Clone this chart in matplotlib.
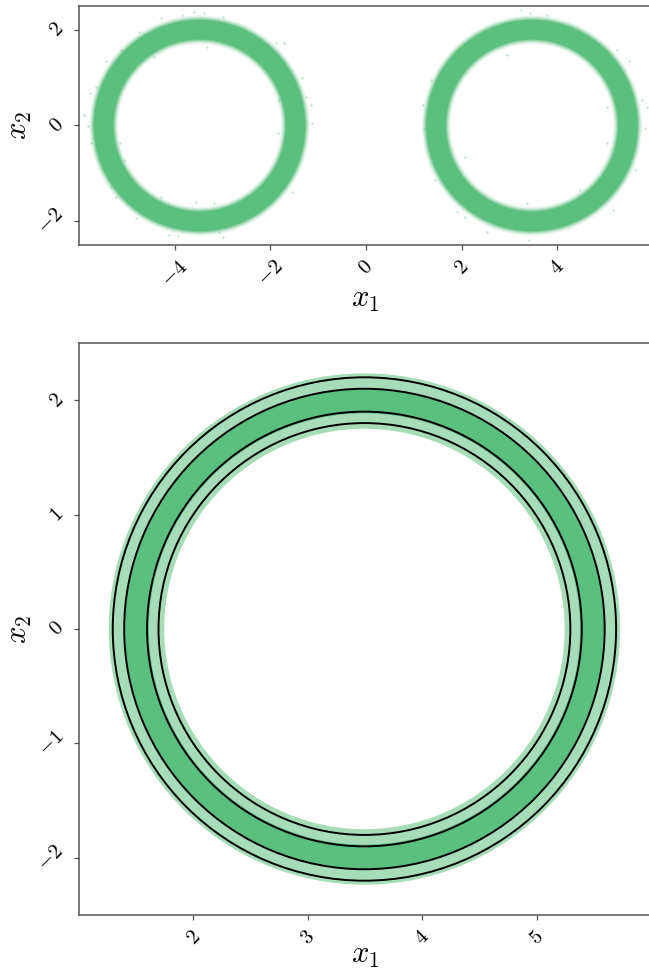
import matplotlib
matplotlib.use("Agg")
import matplotlib.pyplot as plt
from matplotlib.patches import Wedge, Circle

plt.rcParams['mathtext.fontset'] = 'cm'
plt.rcParams['font.family'] = ['DejaVu Serif']

W, H = 649, 971
GREEN = '#5bbf7d'
LIGHT = '#a6ddb8'
SPINE = '#555555'

# Top panel: ring centres and read-off density bands (inner, outer, alpha)
ring_centres = [-3.48, 3.47]
density_bands = [(1.70, 2.31, 0.07), (1.72, 2.29, 0.12), (1.74, 2.27, 0.2),
                 (1.76, 2.25, 0.3), (1.78, 2.23, 0.45), (1.80, 2.21, 1.0)]

# Stray points
stray_x1 = [-5.89, -5.81, -5.77, -5.74, -5.65, -5.33, -5.23, -4.81, -4.12, -3.94, -3.0, -3.07,
            -1.54, -1.33, -1.16, -1.12, -1.26, -1.72, -1.89, -3.0, -3.60, -3.39, -4.29, -3.84,
            -4.74, -5.13, -5.44, -3.56, -3.18, -4.29, -5.06, -5.14, -1.82, -1.85, -4.43, -3.32,
            1.19, 1.21, 1.31, 1.35, 1.45, 1.90, 2.08, 2.53, 3.40, 3.23, 3.43, 3.78, 5.24, 5.49,
            5.77, 5.87, 5.84, 5.63, 5.17, 2.95, 5.04, 5.04, 2.08, 4.48, 3.37]
stray_x2 = [0.22, -0.02, 0.67, -0.37, 0.81, -1.28, -1.49, -1.94, -2.29, -2.31, -2.34, -2.22,
            -1.39, 0.99, 0.43, 0.05, 0.60, 1.72, 1.72, 2.28, 2.38, 2.35, 2.24, 2.31,
            1.96, 1.58, 1.34, -1.60, -1.63, -1.49, -0.72, -0.37, 0.53, -0.16, 1.44, 1.65,
            0.43, -0.06, -0.51, 0.95, -1.14, -1.80, -1.91, -2.22, -2.40, 2.42, 2.35, 2.31, 1.58, 1.34,
            0.53, 0.39, -0.06, -0.93, -1.77, 1.48, 0.39, -0.37, -0.65, -1.35, -1.63]

# Bottom panel: centre and radii
centre = (3.495, 0.0)
fill_light = (1.75, 2.235)
fill_dark = (1.885, 2.10)
contour_radii = [1.80, 1.90, 2.10, 2.20]

top_xticks = [-4, -2, 0, 2, 4]
top_yticks = [-2, 0, 2]
bot_xticks = [2, 3, 4, 5]
bot_yticks = [-2, -1, 0, 1, 2]


def annulus(c, r0, r1, **kw):
    return Wedge(c, r1, 0, 360, width=r1 - r0, linewidth=0, **kw)


def style(ax, xt, yt):
    for s in ['right', 'top', 'left', 'bottom']:
        ax.spines[s].set_color(SPINE)
        ax.spines[s].set_linewidth(1.1)
    ax.set_xticks(xt)
    ax.set_yticks(yt)
    ax.set_xticklabels([f'${v}$' for v in xt], rotation=45, fontsize=15, ha='center')
    ax.set_yticklabels([f'${v}$' for v in yt], rotation=45, fontsize=15, va='center')
    ax.tick_params(length=3.5, width=0.9, color=SPINE, pad=5)
    ax.set_xlabel('$x_1$', fontsize=22)
    ax.set_ylabel('$x_2$', fontsize=22)


fig = plt.figure(figsize=(W / 100, H / 100), dpi=100)

ax1 = fig.add_axes([79 / W, 1 - 245 / H, (653 - 79) / W, 239 / H])
for c in ring_centres:
    for r0, r1, a in density_bands:
        ax1.add_patch(annulus((c, 0), r0, r1, facecolor=GREEN, alpha=a))
ax1.scatter(stray_x1, stray_x2, s=2.5, color=GREEN, alpha=0.45, linewidths=0)
ax1.set_xlim(-6, 6)
ax1.set_ylim(-2.5, 2.5)
style(ax1, top_xticks, top_yticks)
ax1.xaxis.set_label_coords((365.5 - 79) / 574, -(283 - 245) / 239)
ax1.yaxis.set_label_coords(-(79 - 34) / 574, 0.5)

ax2 = fig.add_axes([79 / W, 1 - 915 / H, (651 - 79) / W, 572 / H])
ax2.add_patch(annulus(centre, *fill_light, facecolor=LIGHT))
ax2.add_patch(annulus(centre, *fill_dark, facecolor=GREEN))
for r in contour_radii:
    ax2.add_patch(Circle(centre, r, fill=False, edgecolor='black', linewidth=1.4))
ax2.set_xlim(1, 6)
ax2.set_ylim(-2.5, 2.5)
style(ax2, bot_xticks, bot_yticks)
ax2.xaxis.set_label_coords((365.5 - 79) / 572, -(939 - 915) / 572)
ax2.yaxis.set_label_coords(-(79 - 34) / 572, 0.5)

fig.savefig('out.png', dpi=100, facecolor='white')
